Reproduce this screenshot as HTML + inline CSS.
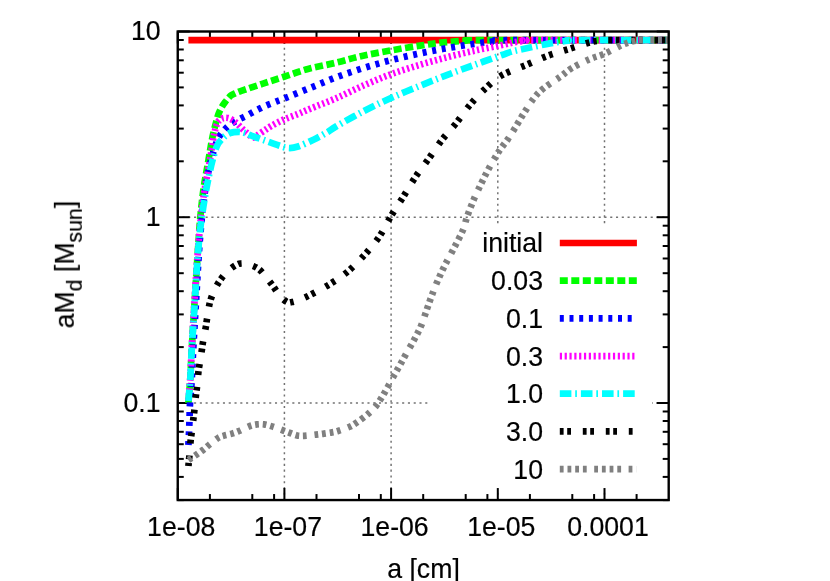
<!DOCTYPE html>
<html><head><meta charset="utf-8"><title>plot</title>
<style>
html,body{margin:0;padding:0;background:#fff;}
body{width:830px;height:581px;overflow:hidden;font-family:"Liberation Sans",sans-serif;}
svg{display:block;}
text{font-family:"Liberation Sans",sans-serif;font-size:26.67px;fill:#000;}
.txt{opacity:0.999;}
</style></head><body>
<svg width="830" height="581" viewBox="0 0 830 581">
<rect x="0" y="0" width="830" height="581" fill="#fff"/>

<g stroke="#000" stroke-width="1.5" stroke-dasharray="2.1 3.68" fill="none" opacity="0.55">
<line x1="284.4" y1="500.05" x2="284.4" y2="31.5" stroke-dashoffset="0.55"/>
<line x1="391.1" y1="500.05" x2="391.1" y2="31.5" stroke-dashoffset="0.55"/>
<line x1="497.8" y1="500.05" x2="497.8" y2="31.5" stroke-dashoffset="0.55"/>
<line x1="604.5" y1="500.05" x2="604.5" y2="31.5" stroke-dashoffset="0.55"/>
<line x1="177.75" y1="217.2" x2="668.7" y2="217.2" stroke-dashoffset="1.05"/>
<line x1="177.75" y1="403.0" x2="668.7" y2="403.0" stroke-dashoffset="1.05"/>
</g>
<rect x="429.5" y="224.5" width="222.5" height="266" fill="#fff"/>
<g stroke="#000" stroke-width="2.0" fill="none" stroke-linecap="butt">
<line x1="177.8" y1="500.05" x2="177.8" y2="488.05"/>
<line x1="177.8" y1="31.5" x2="177.8" y2="43.5"/>
<line x1="209.9" y1="500.05" x2="209.9" y2="494.05"/>
<line x1="209.9" y1="31.5" x2="209.9" y2="37.5"/>
<line x1="252.3" y1="500.05" x2="252.3" y2="494.05"/>
<line x1="252.3" y1="31.5" x2="252.3" y2="37.5"/>
<line x1="274.1" y1="500.05" x2="274.1" y2="494.05"/>
<line x1="274.1" y1="31.5" x2="274.1" y2="37.5"/>
<line x1="284.4" y1="500.05" x2="284.4" y2="488.05"/>
<line x1="284.4" y1="31.5" x2="284.4" y2="43.5"/>
<line x1="316.5" y1="500.05" x2="316.5" y2="494.05"/>
<line x1="316.5" y1="31.5" x2="316.5" y2="37.5"/>
<line x1="359.0" y1="500.05" x2="359.0" y2="494.05"/>
<line x1="359.0" y1="31.5" x2="359.0" y2="37.5"/>
<line x1="380.8" y1="500.05" x2="380.8" y2="494.05"/>
<line x1="380.8" y1="31.5" x2="380.8" y2="37.5"/>
<line x1="391.1" y1="500.05" x2="391.1" y2="488.05"/>
<line x1="391.1" y1="31.5" x2="391.1" y2="43.5"/>
<line x1="423.2" y1="500.05" x2="423.2" y2="494.05"/>
<line x1="423.2" y1="31.5" x2="423.2" y2="37.5"/>
<line x1="465.7" y1="500.05" x2="465.7" y2="494.05"/>
<line x1="465.7" y1="31.5" x2="465.7" y2="37.5"/>
<line x1="487.4" y1="500.05" x2="487.4" y2="494.05"/>
<line x1="487.4" y1="31.5" x2="487.4" y2="37.5"/>
<line x1="497.8" y1="500.05" x2="497.8" y2="488.05"/>
<line x1="497.8" y1="31.5" x2="497.8" y2="43.5"/>
<line x1="529.9" y1="500.05" x2="529.9" y2="494.05"/>
<line x1="529.9" y1="31.5" x2="529.9" y2="37.5"/>
<line x1="572.3" y1="500.05" x2="572.3" y2="494.05"/>
<line x1="572.3" y1="31.5" x2="572.3" y2="37.5"/>
<line x1="594.1" y1="500.05" x2="594.1" y2="494.05"/>
<line x1="594.1" y1="31.5" x2="594.1" y2="37.5"/>
<line x1="604.5" y1="500.05" x2="604.5" y2="488.05"/>
<line x1="604.5" y1="31.5" x2="604.5" y2="43.5"/>
<line x1="636.6" y1="500.05" x2="636.6" y2="494.05"/>
<line x1="636.6" y1="31.5" x2="636.6" y2="37.5"/>
<line x1="177.75" y1="500.1" x2="183.75" y2="500.1"/>
<line x1="668.7" y1="500.1" x2="662.7" y2="500.1"/>
<line x1="177.75" y1="476.9" x2="183.75" y2="476.9"/>
<line x1="668.7" y1="476.9" x2="662.7" y2="476.9"/>
<line x1="177.75" y1="458.9" x2="183.75" y2="458.9"/>
<line x1="668.7" y1="458.9" x2="662.7" y2="458.9"/>
<line x1="177.75" y1="444.2" x2="183.75" y2="444.2"/>
<line x1="668.7" y1="444.2" x2="662.7" y2="444.2"/>
<line x1="177.75" y1="431.8" x2="183.75" y2="431.8"/>
<line x1="668.7" y1="431.8" x2="662.7" y2="431.8"/>
<line x1="177.75" y1="421.0" x2="183.75" y2="421.0"/>
<line x1="668.7" y1="421.0" x2="662.7" y2="421.0"/>
<line x1="177.75" y1="411.5" x2="183.75" y2="411.5"/>
<line x1="668.7" y1="411.5" x2="662.7" y2="411.5"/>
<line x1="177.75" y1="403.0" x2="189.75" y2="403.0"/>
<line x1="668.7" y1="403.0" x2="656.7" y2="403.0"/>
<line x1="177.75" y1="347.1" x2="183.75" y2="347.1"/>
<line x1="668.7" y1="347.1" x2="662.7" y2="347.1"/>
<line x1="177.75" y1="314.4" x2="183.75" y2="314.4"/>
<line x1="668.7" y1="314.4" x2="662.7" y2="314.4"/>
<line x1="177.75" y1="291.2" x2="183.75" y2="291.2"/>
<line x1="668.7" y1="291.2" x2="662.7" y2="291.2"/>
<line x1="177.75" y1="273.2" x2="183.75" y2="273.2"/>
<line x1="668.7" y1="273.2" x2="662.7" y2="273.2"/>
<line x1="177.75" y1="258.5" x2="183.75" y2="258.5"/>
<line x1="668.7" y1="258.5" x2="662.7" y2="258.5"/>
<line x1="177.75" y1="246.0" x2="183.75" y2="246.0"/>
<line x1="668.7" y1="246.0" x2="662.7" y2="246.0"/>
<line x1="177.75" y1="235.3" x2="183.75" y2="235.3"/>
<line x1="668.7" y1="235.3" x2="662.7" y2="235.3"/>
<line x1="177.75" y1="225.7" x2="183.75" y2="225.7"/>
<line x1="668.7" y1="225.7" x2="662.7" y2="225.7"/>
<line x1="177.75" y1="217.2" x2="189.75" y2="217.2"/>
<line x1="668.7" y1="217.2" x2="656.7" y2="217.2"/>
<line x1="177.75" y1="161.3" x2="183.75" y2="161.3"/>
<line x1="668.7" y1="161.3" x2="662.7" y2="161.3"/>
<line x1="177.75" y1="128.6" x2="183.75" y2="128.6"/>
<line x1="668.7" y1="128.6" x2="662.7" y2="128.6"/>
<line x1="177.75" y1="105.4" x2="183.75" y2="105.4"/>
<line x1="668.7" y1="105.4" x2="662.7" y2="105.4"/>
<line x1="177.75" y1="87.4" x2="183.75" y2="87.4"/>
<line x1="668.7" y1="87.4" x2="662.7" y2="87.4"/>
<line x1="177.75" y1="72.7" x2="183.75" y2="72.7"/>
<line x1="668.7" y1="72.7" x2="662.7" y2="72.7"/>
<line x1="177.75" y1="60.3" x2="183.75" y2="60.3"/>
<line x1="668.7" y1="60.3" x2="662.7" y2="60.3"/>
<line x1="177.75" y1="49.5" x2="183.75" y2="49.5"/>
<line x1="668.7" y1="49.5" x2="662.7" y2="49.5"/>
<line x1="177.75" y1="40.0" x2="183.75" y2="40.0"/>
<line x1="668.7" y1="40.0" x2="662.7" y2="40.0"/>
<line x1="177.75" y1="31.5" x2="189.75" y2="31.5"/>
<line x1="668.7" y1="31.5" x2="656.7" y2="31.5"/>
</g>
<g fill="none" stroke-width="6.7" stroke-linecap="butt" stroke-linejoin="round">
<path d="M188.4,40.2 L668.7,40.2" stroke="#ff0000"/>
<path d="M188.4,403.0 C188.7,399.2 189.6,388.8 190.2,380.0 C190.8,371.2 191.0,363.0 191.7,350.0 C192.4,337.0 193.6,317.3 194.6,302.0 C195.6,286.7 196.5,271.3 197.4,258.0 C198.3,244.7 199.2,231.3 199.9,222.0 C200.7,212.7 201.2,208.2 201.9,202.0 C202.6,195.8 203.2,190.7 204.1,185.0 C205.0,179.3 206.0,174.1 207.1,168.0 C208.2,161.9 209.5,153.8 210.4,148.5 C211.3,143.2 211.8,140.5 212.6,136.5 C213.4,132.5 214.5,128.2 215.5,124.5 C216.5,120.8 217.4,116.9 218.5,114.0 C219.6,111.1 220.7,109.0 221.8,107.0 C222.9,105.0 224.1,103.5 225.2,102.0 C226.3,100.5 227.5,99.1 228.5,98.0 C229.5,96.9 230.1,96.1 231.2,95.3 C232.3,94.5 233.2,94.2 235.0,93.4 C236.8,92.6 237.3,92.2 242.0,90.6 C246.7,89.0 256.0,85.9 263.0,83.6 C270.0,81.3 276.5,79.2 284.0,76.8 C291.5,74.4 299.3,71.3 308.0,69.0 C316.7,66.7 327.0,64.9 336.0,62.7 C345.0,60.5 352.8,58.0 362.0,56.0 C371.2,54.0 381.3,52.1 391.0,50.4 C400.7,48.7 411.2,46.9 420.0,45.6 C428.8,44.3 436.3,43.2 444.0,42.4 C451.7,41.6 460.0,41.1 466.0,40.7 C472.0,40.3 446.2,40.3 480.0,40.2 L668.7,40.2" stroke="#00ff00" stroke-dasharray="8 3.5" stroke-dashoffset="0"/>
<path d="M188.4,445.0 C188.5,443.0 188.8,437.2 189.0,433.0 C189.2,428.8 189.3,424.8 189.5,420.0 C189.7,415.2 189.6,410.7 190.0,404.0 C190.4,397.3 191.2,389.0 191.7,380.0 C192.2,371.0 192.5,363.3 193.2,350.0 C193.9,336.7 195.1,316.7 196.1,300.0 C197.1,283.3 198.1,264.2 199.1,250.0 C200.1,235.8 201.3,223.7 202.1,215.0 C202.9,206.3 203.3,204.2 204.1,198.0 C204.9,191.8 205.9,184.3 207.1,178.0 C208.3,171.7 209.7,165.5 211.1,160.0 C212.5,154.5 214.3,148.8 215.6,145.0 C216.9,141.2 217.6,139.4 219.0,137.0 C220.4,134.6 222.2,132.4 224.0,130.3 C225.8,128.2 227.5,126.4 230.0,124.6 C232.5,122.8 236.0,121.0 239.0,119.4 C242.0,117.8 245.0,116.5 248.0,114.9 C251.0,113.3 254.0,111.5 257.0,110.0 C260.0,108.5 263.0,106.9 266.0,105.6 C269.0,104.3 272.0,103.2 275.0,102.0 C278.0,100.8 278.2,100.9 284.0,98.6 C289.8,96.3 301.3,91.5 310.0,88.0 C318.7,84.5 327.2,80.7 336.0,77.4 C344.8,74.1 353.8,71.1 363.0,68.2 C372.2,65.3 381.5,62.7 391.0,60.2 C400.5,57.7 410.5,55.4 420.0,53.4 C429.5,51.4 438.7,49.6 448.0,48.0 C457.3,46.4 468.0,44.8 476.0,43.6 C484.0,42.4 490.3,41.6 496.0,41.0 C501.7,40.4 481.2,40.3 510.0,40.2 L668.7,40.2" stroke="#0000ff" stroke-dasharray="4 5.7" stroke-dashoffset="0"/>
<path d="M188.4,400.0 C188.7,396.7 189.6,388.3 190.2,380.0 C190.8,371.7 191.0,363.3 191.7,350.0 C192.4,336.7 193.6,315.8 194.6,300.0 C195.6,284.2 196.6,268.3 197.6,255.0 C198.6,241.7 199.7,229.2 200.6,220.0 C201.5,210.8 202.3,206.0 203.1,200.0 C203.9,194.0 204.7,189.3 205.6,184.0 C206.5,178.7 207.6,173.7 208.6,168.0 C209.6,162.3 210.7,155.5 211.6,150.0 C212.5,144.5 213.1,139.3 214.0,135.0 C214.9,130.7 215.9,126.6 217.0,124.0 C218.1,121.4 219.1,120.5 220.3,119.5 C221.6,118.5 223.1,118.0 224.5,117.8 C225.9,117.6 227.6,117.8 229.0,118.2 C230.4,118.7 231.8,119.5 233.2,120.5 C234.6,121.5 235.9,122.6 237.5,124.0 C239.1,125.4 240.8,127.4 242.5,129.0 C244.2,130.6 245.9,132.1 247.5,133.5 C249.1,134.9 251.2,136.6 252.3,137.2 C253.4,137.8 253.5,137.5 254.3,137.2 C255.1,136.9 255.8,136.2 257.3,135.2 C258.8,134.2 261.0,132.7 263.3,131.2 C265.6,129.7 267.6,128.2 271.0,126.2 C274.4,124.2 279.5,121.4 284.0,119.4 C288.5,117.4 293.7,115.8 298.0,114.0 C302.3,112.2 303.7,111.4 310.0,108.8 C316.3,106.2 327.0,102.2 336.0,98.3 C345.0,94.4 354.8,89.3 364.0,85.3 C373.2,81.3 381.7,77.6 391.0,74.2 C400.3,70.8 410.5,67.7 420.0,64.8 C429.5,61.9 438.7,59.4 448.0,57.0 C457.3,54.6 467.0,52.3 476.0,50.3 C485.0,48.3 495.7,46.3 502.0,45.0 C508.3,43.7 510.0,43.0 514.0,42.3 C518.0,41.6 522.5,41.0 526.0,40.6 C529.5,40.2 511.2,40.3 535.0,40.2 L668.7,40.2" stroke="#ff00ff" stroke-dasharray="2.2 2.63" stroke-dashoffset="0"/>
<path d="M188.4,401.0 C188.7,397.5 189.6,388.5 190.2,380.0 C190.8,371.5 191.0,362.5 191.7,350.0 C192.4,337.5 193.7,319.2 194.6,305.0 C195.5,290.8 196.3,276.7 197.1,265.0 C197.9,253.3 198.8,243.3 199.6,235.0 C200.4,226.7 201.2,221.5 202.1,215.0 C203.0,208.5 204.1,201.8 205.1,196.0 C206.1,190.2 206.9,185.7 208.1,180.0 C209.3,174.3 210.6,167.7 212.1,162.0 C213.6,156.3 215.2,150.0 217.0,146.0 C218.8,142.0 220.8,140.2 223.0,138.0 C225.2,135.8 227.4,134.0 230.0,133.0 C232.6,132.0 236.2,131.8 238.7,131.8 C241.2,131.8 242.9,132.4 245.0,133.0 C247.1,133.6 247.7,134.2 251.0,135.5 C254.3,136.8 260.3,138.8 265.0,140.5 C269.7,142.2 275.1,144.2 279.0,145.5 C282.9,146.8 285.3,147.8 288.5,148.0 C291.7,148.2 293.8,147.9 298.0,146.5 C302.2,145.1 309.0,141.9 314.0,139.5 C319.0,137.1 324.3,134.0 328.0,131.8 C331.7,129.6 330.0,130.0 336.0,126.5 C342.0,123.0 354.8,115.8 364.0,111.0 C373.2,106.2 381.7,102.2 391.0,98.0 C400.3,93.8 410.5,89.7 420.0,85.8 C429.5,81.9 438.7,78.2 448.0,74.6 C457.3,71.0 467.0,67.6 476.0,64.3 C485.0,61.0 495.7,57.2 502.0,55.0 C508.3,52.8 509.3,52.2 514.0,51.0 C518.7,49.8 524.0,48.8 530.0,47.5 C536.0,46.2 543.7,44.5 550.0,43.4 C556.3,42.2 563.8,41.1 568.0,40.6 C572.2,40.1 558.2,40.3 575.0,40.2 L668.7,40.2" stroke="#00ffff" stroke-dasharray="11.6 3.8 1.7 4" stroke-dashoffset="0"/>
<path d="M188.4,466.0 C188.6,464.3 189.0,460.2 189.4,456.0 C189.8,451.8 190.2,444.8 190.6,441.0 C191.0,437.2 191.1,437.0 191.6,433.0 C192.1,429.0 193.1,420.8 193.6,417.0 C194.1,413.2 194.0,413.8 194.4,410.0 C194.8,406.2 195.6,398.3 196.0,394.5 C196.4,390.7 196.6,390.8 197.0,387.0 C197.4,383.2 198.0,375.8 198.4,372.0 C198.8,368.2 199.0,367.8 199.6,364.0 C200.2,360.2 201.4,352.7 202.0,349.0 C202.6,345.3 202.3,345.8 203.0,342.0 C203.7,338.2 205.3,329.8 206.0,326.0 C206.7,322.2 206.3,323.0 207.0,319.0 C207.7,315.0 208.7,307.0 210.0,302.0 C211.3,297.0 213.2,292.8 215.0,289.0 C216.8,285.2 218.7,282.2 221.0,279.0 C223.3,275.8 226.3,272.4 229.0,270.0 C231.7,267.6 235.0,265.6 237.0,264.5 C239.0,263.4 239.3,263.6 241.0,263.5 C242.7,263.4 244.2,263.2 247.0,264.0 C249.8,264.8 254.8,266.3 258.0,268.5 C261.2,270.7 263.5,274.1 266.0,277.0 C268.5,279.9 270.7,282.8 273.0,286.0 C275.3,289.2 277.7,293.3 280.0,296.0 C282.3,298.7 285.0,301.0 287.0,302.0 C289.0,303.0 289.8,302.4 292.0,302.0 C294.2,301.6 297.0,300.7 300.0,299.5 C303.0,298.3 305.0,297.6 310.0,295.0 C315.0,292.4 323.7,287.9 330.0,284.0 C336.3,280.1 341.9,276.5 347.7,271.6 C353.5,266.7 359.5,260.4 364.8,254.6 C370.1,248.8 375.0,242.9 379.3,236.6 C383.6,230.2 386.9,223.0 390.8,216.5 C394.7,210.0 398.8,203.9 402.8,197.5 C406.8,191.1 410.5,184.5 414.8,178.0 C419.1,171.5 424.2,164.9 428.8,158.5 C433.4,152.1 437.8,145.3 442.3,139.5 C446.8,133.7 451.1,129.5 455.8,123.6 C460.5,117.7 465.6,110.0 470.7,104.0 C475.8,98.0 481.3,92.3 486.5,87.5 C491.7,82.7 495.4,79.0 502.0,75.2 C508.6,71.5 518.5,68.2 526.0,65.0 C533.5,61.8 539.8,58.7 547.0,56.0 C554.2,53.3 561.8,51.3 569.0,49.0 C576.2,46.7 584.5,43.7 590.0,42.3 C595.5,40.9 598.7,40.8 602.0,40.4 C605.3,40.0 598.9,40.2 610.0,40.2 L668.7,40.2" stroke="#000000" stroke-dasharray="3.8 3.6 3.8 11.8" stroke-dashoffset="0.5"/>
<path d="M188.4,460.0 C189.7,459.2 193.6,456.7 196.0,455.0 C198.4,453.3 200.8,451.7 203.0,450.0 C205.2,448.3 206.5,447.0 209.0,445.0 C211.5,443.0 215.5,439.6 218.0,438.0 C220.5,436.4 221.7,436.3 224.0,435.6 C226.3,434.9 229.5,434.4 232.0,433.6 C234.5,432.8 236.0,432.3 239.0,431.0 C242.0,429.7 247.0,427.1 250.0,426.0 C253.0,424.9 254.7,424.7 257.0,424.4 C259.3,424.1 261.5,424.1 264.0,424.4 C266.5,424.7 269.0,425.5 272.0,426.4 C275.0,427.3 279.0,428.9 282.0,430.0 C285.0,431.1 287.5,432.1 290.0,433.0 C292.5,433.9 294.7,434.9 297.0,435.4 C299.3,435.9 300.8,435.9 304.0,435.8 C307.2,435.7 312.7,435.0 316.0,434.6 C319.3,434.2 321.3,434.0 324.0,433.6 C326.7,433.2 329.7,432.8 332.0,432.4 C334.3,432.0 335.2,431.9 338.0,431.0 C340.8,430.1 346.0,428.3 349.0,427.0 C352.0,425.7 352.8,425.2 356.0,423.0 C359.2,420.8 364.7,416.8 368.0,414.0 C371.3,411.2 373.7,408.8 376.0,406.0 C378.3,403.2 380.0,400.2 382.0,397.0 C384.0,393.8 386.0,390.1 388.0,386.5 C390.0,382.9 392.0,379.1 394.0,375.5 C396.0,371.9 398.0,368.6 400.0,365.0 C402.0,361.4 403.7,358.2 406.0,354.0 C408.3,349.8 411.5,344.7 414.0,340.0 C416.5,335.3 418.8,331.2 421.0,326.0 C423.2,320.8 425.2,314.2 427.0,309.0 C428.8,303.8 430.2,299.8 432.0,295.0 C433.8,290.2 435.8,285.0 438.0,280.0 C440.2,275.0 442.3,270.3 445.0,265.0 C447.7,259.7 451.0,253.8 454.0,248.0 C457.0,242.2 460.8,235.2 463.0,230.0 C465.2,224.8 465.2,222.2 467.0,217.0 C468.8,211.8 471.7,204.5 474.0,199.0 C476.3,193.5 478.7,188.8 481.0,184.0 C483.3,179.2 485.5,174.7 488.0,170.0 C490.5,165.3 493.7,159.8 496.0,156.0 C498.3,152.2 500.0,149.8 502.0,147.0 C504.0,144.2 505.8,142.2 508.0,139.0 C510.2,135.8 512.3,132.3 515.0,128.0 C517.7,123.7 520.8,118.0 524.0,113.0 C527.2,108.0 530.7,102.2 534.0,98.0 C537.3,93.8 539.7,91.5 544.0,88.0 C548.3,84.5 555.3,80.3 560.0,77.0 C564.7,73.7 567.0,71.0 572.0,68.0 C577.0,65.0 584.7,61.3 590.0,59.0 C595.3,56.7 598.7,56.3 604.0,54.0 C609.3,51.7 617.0,47.2 622.0,45.0 C627.0,42.8 630.7,41.8 634.0,41.0 C637.3,40.2 636.2,40.3 642.0,40.2 L668.7,40.2" stroke="#808080" stroke-dasharray="3.8 3.9 3.8 3.9 3.8 3.9 3.8 7.5" stroke-dashoffset="0"/>
</g>
<rect x="177.75" y="31.5" width="490.95000000000005" height="468.55" fill="none" stroke="#000" stroke-width="2.4"/>
<g class="txt" stroke="#000" stroke-width="0.2" stroke-linejoin="round">
<text transform="translate(181.2 535.8) scale(1 1.07)" text-anchor="middle">1e-08</text>
<text transform="translate(287.9 535.8) scale(1 1.07)" text-anchor="middle">1e-07</text>
<text transform="translate(394.6 535.8) scale(1 1.07)" text-anchor="middle">1e-06</text>
<text transform="translate(501.3 535.8) scale(1 1.07)" text-anchor="middle">1e-05</text>
<text transform="translate(608.0 535.8) scale(1 1.07)" text-anchor="middle">0.0001</text>
<text transform="translate(160.6 40.3) scale(1 1.07)" text-anchor="end">10</text>
<text transform="translate(160.6 226.1) scale(1 1.07)" text-anchor="end">1</text>
<text transform="translate(160.6 411.8) scale(1 1.07)" text-anchor="end">0.1</text>
<text transform="translate(423.5 577.6) scale(1 1.07)" text-anchor="middle">a [cm]</text>
<text transform="translate(73.6 264.6) rotate(-90) scale(1 1.07)" text-anchor="middle">aM<tspan font-size="21.3px" dy="7.3">d</tspan><tspan dy="-7.3"> [M</tspan><tspan font-size="21.3px" dy="7.3">sun</tspan><tspan dy="-7.3">]</tspan></text>
<text transform="translate(543.0 252.4) scale(1 1.07)" text-anchor="end">initial</text>
<text transform="translate(543.0 290.4) scale(1 1.07)" text-anchor="end">0.03</text>
<text transform="translate(543.0 328.2) scale(1 1.07)" text-anchor="end">0.1</text>
<text transform="translate(543.0 365.6) scale(1 1.07)" text-anchor="end">0.3</text>
<text transform="translate(543.0 403.4) scale(1 1.07)" text-anchor="end">1.0</text>
<text transform="translate(543.0 441.1) scale(1 1.07)" text-anchor="end">3.0</text>
<text transform="translate(543.0 478.8) scale(1 1.07)" text-anchor="end">10</text>
</g>
<g fill="none" stroke-width="6.7" stroke-linecap="butt">
<line x1="559.8" y1="243" x2="636.9" y2="243" stroke="#ff0000"/>
<line x1="559.8" y1="280.7" x2="636.9" y2="280.7" stroke="#00ff00" stroke-dasharray="8 3.5"/>
<line x1="559.8" y1="318.4" x2="636.4" y2="318.4" stroke="#0000ff" stroke-dasharray="4 5.7"/>
<line x1="559.8" y1="356.2" x2="636.4" y2="356.2" stroke="#ff00ff" stroke-dasharray="2.2 2.63"/>
<line x1="559.8" y1="393.6" x2="636.4" y2="393.6" stroke="#00ffff" stroke-dasharray="11.6 3.8 1.7 4"/>
<line x1="559.8" y1="431.4" x2="636.0" y2="431.4" stroke="#000000" stroke-dasharray="3.8 3.6 3.8 11.8"/>
<line x1="559.8" y1="469.2" x2="636.4" y2="469.2" stroke="#808080" stroke-dasharray="3.8 3.9 3.8 3.9 3.8 3.9 3.8 7.5"/>
</g>
</svg></body></html>
